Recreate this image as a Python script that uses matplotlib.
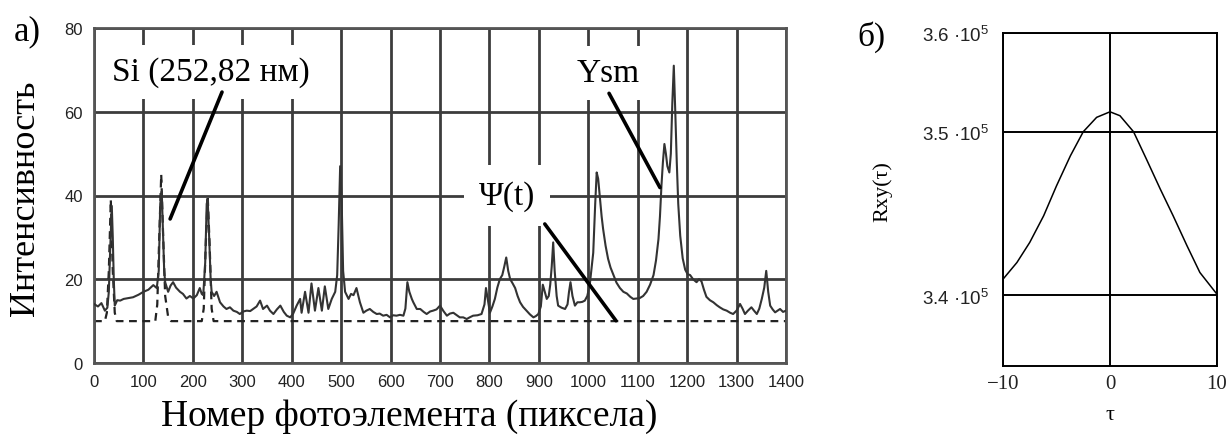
import matplotlib
matplotlib.use("Agg")
import matplotlib.pyplot as plt

# ---------------- data: panel a) ----------------
psi_x = [0, 8, 15, 22, 27, 30, 33, 36, 38, 40, 42, 47, 53, 60, 70, 79, 90, 100, 110, 120,
         127, 131, 134, 137, 140, 142, 144, 150, 155, 160, 166, 174, 180, 187, 194, 201, 208,
         214, 218, 221, 225, 228, 230, 233, 236, 238, 243, 248, 255, 262, 268, 275, 282, 289,
         295, 302, 309, 316, 322, 329, 336, 342, 350, 356, 363, 370, 377, 384, 390, 397, 403,
         410, 417, 420, 427, 434, 440, 447, 454, 461, 467, 474, 481, 488, 492, 495, 498, 501,
         504, 508, 515, 520, 525, 531, 538, 545, 551, 558, 565, 572, 578, 585, 592, 599, 605,
         612, 619, 626, 630, 634, 638, 643, 646, 653, 660, 667, 673, 680, 686, 693, 700, 707,
         714, 720, 727, 734, 740, 747, 754, 760, 767, 776, 784, 790, 793, 797, 801, 806, 811,
         816, 821, 826, 830, 834, 838, 842, 847, 852, 857, 862, 868, 875, 882, 889, 894, 899,
         904, 908, 912, 916, 920, 923, 926, 929, 932, 936, 939, 946, 953, 958, 961, 964, 968,
         973, 978, 983, 988, 993, 998, 1003, 1006, 1010, 1014, 1017, 1020, 1024, 1027, 1030,
         1035, 1040, 1045, 1051, 1057, 1064, 1071, 1078, 1085, 1091, 1098, 1104, 1111, 1118,
         1125, 1132, 1137, 1142, 1145, 1148, 1151, 1154, 1157, 1160, 1164, 1167, 1170, 1173,
         1176, 1179, 1182, 1186, 1191, 1196, 1201, 1206, 1212, 1219, 1224, 1229, 1234, 1239,
         1246, 1253, 1260, 1266, 1273, 1280, 1287, 1293, 1300, 1307, 1312, 1317, 1323, 1330,
         1336, 1341, 1346, 1351, 1356, 1360, 1364, 1368, 1373, 1378, 1383, 1388, 1394, 1400]
psi_y = [14.1, 13.5, 14.3, 12.5, 13.2, 17, 28, 37.5, 30, 20, 13.7, 15, 14.9, 15.3, 15.5, 15.7,
         16.3, 17, 17.5, 18.6, 17.9, 22, 38, 41, 30, 22, 19.3, 17, 18.5, 19.3, 18, 17, 16.5,
         15.4, 16, 15.4, 16.2, 17.9, 16.5, 16.2, 24, 38, 39, 30, 20, 17, 16, 17, 14.5, 13.5,
         12.9, 13.3, 12.5, 12.2, 11.7, 12.3, 12.5, 12.4, 12.9, 13.5, 14.9, 12.9, 13.7, 12.5,
         11.7, 12.8, 13.7, 12.2, 11.3, 10.9, 11.8, 13.7, 15.3, 12, 17, 12, 19, 12.5, 17.9, 12.5,
         18.3, 12.9, 15.3, 17, 21, 33, 47, 39, 22, 17, 15.3, 16.5, 16.2, 17.9, 14.5, 12, 12.5,
         12.9, 12.2, 11.7, 11.8, 11.3, 11.5, 10.9, 11.4, 11.3, 11.5, 11.3, 13, 19.3, 17, 15.3,
         14.5, 12.9, 12.9, 12.2, 11.7, 12.3, 12.5, 12.8, 13.7, 12.4, 11.3, 11.8, 12, 11.4, 10.9,
         10.9, 10.5, 10.9, 11.3, 11.4, 11.7, 14, 17.9, 15, 12, 13.5, 15.3, 18, 20, 21, 23, 25.2,
         22, 20, 19, 17.9, 16, 14.5, 13.4, 12.5, 11.6, 10.9, 11.2, 11.7, 13.5, 18.7, 17, 15.3,
         16, 18.7, 23, 28.8, 22, 16, 13.7, 13.2, 12.9, 14, 17, 19.3, 16, 13.7, 14.5, 14.5, 14.6,
         14.9, 16, 18.7, 22, 26.3, 38, 45.5, 44, 39, 35, 32, 28, 24.9, 22.8, 21, 19.2, 17.9, 17,
         16.6, 15.8, 15.3, 15.4, 15.5, 16, 17, 18.7, 21, 24.5, 29.6, 35, 42.3, 48, 52.3, 50, 47,
         45.5, 50, 62, 71, 60, 48, 38, 30.4, 25, 22.3, 21.2, 21, 20, 19.3, 20, 19.5, 17.5, 15.8,
         15, 14.5, 13.8, 13.3, 12.8, 12.5, 12, 11.7, 12.5, 14.1, 13, 11.7, 12.5, 13.3, 12.4,
         11.7, 13, 15.3, 18, 22, 17, 13.7, 12.8, 12.1, 12.5, 12.9, 12.2, 12.5]

ysm_x = [0, 22, 26, 30, 34, 38, 42, 46, 124, 128, 132, 136, 140, 144, 150, 156,
         218, 222, 226, 230, 234, 238, 242, 1400]
ysm_y = [10, 10, 12, 22, 39, 22, 12, 10, 10, 14, 30, 45, 30, 16, 11, 10,
         10, 13, 28, 40, 28, 13, 10, 10]

xticks_a = list(range(0, 1401, 100))
yticks_a = [0, 20, 40, 60, 80]

# ---------------- data: panel б) ----------------
tau = [-10, -8.7, -7.5, -6.2, -5.0, -3.7, -2.5, -1.25, 0, 0.93, 2.2, 3.4, 4.7, 5.9, 7.2, 8.4, 10]
rxy = [3.4098e5, 3.4200e5, 3.4323e5, 3.4486e5, 3.4669e5, 3.4853e5, 3.5000e5, 3.5088e5,
       3.5122e5, 3.5098e5, 3.5000e5, 3.4833e5, 3.4649e5, 3.4486e5, 3.4302e5, 3.4139e5, 3.4006e5]
yticks_b = [3.4e5, 3.5e5, 3.5604e5]
yticklabels_b = ['3.4 ·10$^{5}$', '3.5 ·10$^{5}$', '3.6 ·10$^{5}$']
xticks_b = [-10, 0, 10]
xticklabels_b = ['\u221210', '0', '10']

SERIF = ['Liberation Serif', 'DejaVu Serif']
SANS = ['Liberation Sans', 'DejaVu Sans']
plt.rcParams['font.family'] = SANS
plt.rcParams['mathtext.fontset'] = 'custom'
plt.rcParams['mathtext.rm'] = 'Liberation Sans'

fig = plt.figure(figsize=(12.32, 4.39), dpi=100)
W, H = 1232, 439

def axrect(x0, y0, x1, y1):
    return [x0 / W, 1 - y1 / H, (x1 - x0) / W, (y1 - y0) / H]

# ---------- panel a ----------
ax = fig.add_axes(axrect(94, 29, 786, 364))
gc = '#3c3c3c'
ax.set_axisbelow(True)
ax.grid(True, color=gc, lw=2.0)
for s in ax.spines.values():
    s.set_color('#555555')
    s.set_linewidth(2.0)
ax.plot(ysm_x, ysm_y, color='#222222', lw=1.6, ls=(0, (3.5, 2.5)), zorder=2)
ax.plot(psi_x, psi_y, color='#333333', lw=1.5, zorder=3)
ax.set_xlim(0, 1400)
ax.set_ylim(0, 80)
ax.set_xticks(xticks_a)
ax.set_yticks(yticks_a)
ax.tick_params(length=0, labelsize=12, colors='#222222', pad=8)

bb = dict(boxstyle='square,pad=0.35', fc='white', ec='none')
ax.text(236, 69.5, 'Si (252,82 нм)', family=SERIF, fontsize=24, ha='center', va='center',
        bbox=bb, zorder=5)
ax.text(1040, 69.3, 'Ysm', family=SERIF, fontsize=24, ha='center', va='center',
        bbox=bb, zorder=5)
ax.text(835, 40, 'Ψ(t)', family=SERIF, fontsize=24, ha='center', va='center',
        bbox=dict(boxstyle='square,pad=0.45', fc='white', ec='none'), zorder=5)
lp = dict(arrowstyle='-', lw=2.6, color='black', shrinkA=0, shrinkB=0)
ax.annotate('', xy=(154, 34.4), xytext=(259, 64.7), arrowprops=lp, zorder=6)
ax.annotate('', xy=(1145, 41.9), xytext=(1042, 64.4), arrowprops=lp, zorder=6)
ax.annotate('', xy=(1056, 10.1), xytext=(912, 33.2), arrowprops=lp, zorder=6)

fig.text(26 / W, 1 - 198 / H, 'Интенсивность', family=SERIF, fontsize=26, rotation=90,
         ha='center', va='center')
fig.text(409 / W, 1 - 417 / H, 'Номер фотоэлемента (пиксела)', family=SERIF, fontsize=27,
         ha='center', va='center')
fig.text(27 / W, 1 - 32 / H, 'а)', family=SERIF, fontsize=25, ha='center', va='center')

# ---------- panel б ----------
bx = fig.add_axes(axrect(1003, 34, 1217, 367))
bx.set_axisbelow(True)
bx.plot(tau, rxy, color='black', lw=1.1)
bx.set_xlim(-10, 10)
bx.set_ylim(3.3567e5, 3.5604e5)
bx.set_xticks(xticks_b)
bx.set_xticklabels(xticklabels_b, family=SERIF, fontsize=15)
bx.set_yticks(yticks_b)
bx.set_yticklabels(yticklabels_b, fontsize=13.5)
bx.grid(True, color='black', lw=1.4)
for s in bx.spines.values():
    s.set_color('black')
    s.set_linewidth(1.4)
bx.tick_params(length=0, pad=10, colors='#222222')
bx.tick_params(axis='x', pad=6)

fig.text(883 / W, 1 - 192 / H, 'Rxy(τ)', family=SERIF, fontsize=16, rotation=90,
         ha='center', va='center')
fig.text(1110 / W, 1 - 416 / H, 'τ', family=SERIF, fontsize=16, ha='center', va='center')
fig.text(871 / W, 1 - 37 / H, 'б)', family=SERIF, fontsize=24, ha='center', va='center')

fig.savefig('out.png', dpi=100)
